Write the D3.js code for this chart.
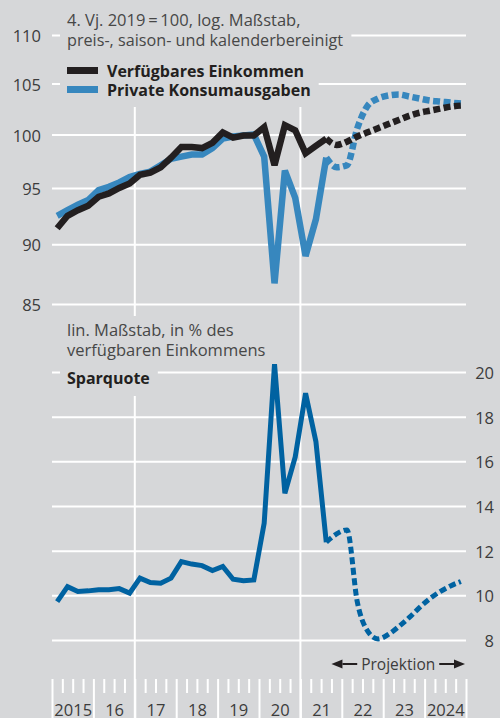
<!DOCTYPE html>
<html>
<head>
<meta charset="utf-8">
<script src="https://cdn.jsdelivr.net/npm/d3@7"></script>
<style>
  html, body { margin: 0; padding: 0; background: #d6d7d9; }
  svg { display: block; font-family: "Open Sans", "Noto Sans", sans-serif; }
</style>
</head>
<body>
<svg id="chart" width="500" height="718"></svg>
<script>
// ---------- data (quarterly, 2015Q1 .. 2024Q4) ----------
const years = ["2015", "16", "17", "18", "19", "20", "21", "22", "23", "2024"];
const firstYear = 2015;
const projectionFrom = 26; // index of the last solid quarter (2021Q3)

// Verfügbares Einkommen, 4. Vj. 2019 = 100
const einkommen = [91.4, 92.5, 93.0, 93.4, 94.2, 94.5, 95.0, 95.4, 96.2, 96.4,
  96.9, 97.8, 98.8, 98.8, 98.7, 99.2, 100.2, 99.7, 99.9, 99.9,
  100.7, 97.1, 100.9, 100.4, 98.2, 98.9, 99.6,
  99.0, 99.3, 99.8, 100.2, 100.6, 101.0, 101.4, 101.8, 102.1, 102.3, 102.5, 102.7, 102.8];

// Private Konsumausgaben, 4. Vj. 2019 = 100
const konsum = [92.5, 93.0, 93.5, 93.9, 94.8, 95.1, 95.5, 96.0, 96.3, 96.5,
  97.1, 97.7, 97.9, 98.1, 98.1, 98.7, 99.6, 99.8, 99.9, 100.0,
  97.9, 86.7, 96.6, 94.1, 89.0, 92.2, 97.8,
  96.9, 97.1, 100.6, 102.8, 103.5, 103.8, 103.9, 103.7, 103.5, 103.3, 103.2, 103.1, 103.0];

// Sparquote, in % des verfügbaren Einkommens
const sparquote = [9.72, 10.39, 10.17, 10.2, 10.25, 10.25, 10.3, 10.1, 10.77, 10.57,
  10.54, 10.77, 11.51, 11.4, 11.33, 11.11, 11.29, 10.72, 10.65, 10.69,
  13.23, 20.35, 14.57, 16.2, 19.05, 16.88, 12.38,
  12.75, 12.93, 9.7, 8.4, 8.05, 8.25, 8.6, 9.0, 9.45, 9.85, 10.17, 10.42, 10.62];

const topTicks = [85, 90, 95, 100, 105, 110];
const bottomTicks = [8, 10, 12, 14, 16, 18, 20];
const gridYears = [2017, 2021];

// ---------- layout ----------
const BG = "#d6d7d9";
const plotL = 52, plotR = 466;
const svg = d3.select("#chart");

const x = d3.scaleLinear().domain([firstYear, firstYear + years.length]).range([plotL, plotR]);
const yTop = d3.scaleLog().domain([85, 110]).range([304, 35]);
const yBot = d3.scaleLinear().domain([8, 20]).range([640, 372]);
const qx = i => x(firstYear + (i + 0.5) / 4);

// vertical grid lines
svg.append("g").selectAll("line").data(gridYears).join("line")
  .attr("x1", d => x(d)).attr("x2", d => x(d))
  .attr("y1", 107).attr("y2", 718)
  .attr("stroke", "#fff").attr("stroke-width", 2);

// left axis (top panel, log)
const axL = svg.append("g").attr("transform", `translate(${plotL},0)`)
  .call(d3.axisLeft(yTop).tickValues(topTicks).tickSize(-(plotR - plotL)).tickPadding(11).tickFormat(d3.format("d")));
axL.select(".domain").remove();
axL.selectAll(".tick line").attr("stroke", "#fff").attr("stroke-width", 2);
axL.selectAll(".tick text").attr("font-size", 16.5).attr("fill", "#3c3c3c")
  .attr("font-family", "Open Sans").attr("dy", "0.4em");

// right axis (bottom panel)
const axR = svg.append("g").attr("transform", `translate(${plotR},0)`)
  .call(d3.axisRight(yBot).tickValues(bottomTicks).tickSize(-(plotR - plotL)).tickPadding(28).tickFormat(d3.format("d")));
axR.select(".domain").remove();
axR.selectAll(".tick line").attr("stroke", "#fff").attr("stroke-width", 2);
axR.selectAll(".tick text").attr("font-size", 16.5).attr("fill", "#3c3c3c")
  .attr("font-family", "Open Sans").attr("text-anchor", "end").attr("dy", "0.4em");

// x axis: quarter ticks
const quarterTicks = d3.range(0, years.length * 4 + 1).map(q => firstYear + q / 4);
const axX = svg.append("g").attr("transform", "translate(0,679)")
  .call(d3.axisBottom(x).tickValues(quarterTicks).tickSize(14).tickFormat(""));
axX.select(".domain").remove();
axX.selectAll(".tick line").attr("stroke", "#fff").attr("stroke-width", 2)
  .attr("y2", d => (Math.abs(d - Math.round(d)) < 1e-9 ? 39 : 14));

// x axis: year labels
const axY = svg.append("g").attr("transform", "translate(0,0)")
  .call(d3.axisBottom(x).tickValues(years.map((_, i) => firstYear + i + 0.5)).tickSize(0)
    .tickFormat((d, i) => years[i]));
axY.select(".domain").remove();
axY.selectAll(".tick text").attr("y", 716).attr("dy", 0).attr("font-size", 16.5)
  .attr("fill", "#3c3c3c").attr("font-family", "Open Sans");

// ---------- text blocks with background ----------
function textLine(str, xx, yy, opts = {}) {
  return svg.append("text").attr("x", xx).attr("y", yy)
    .attr("font-size", opts.size || 16.5)
    .attr("font-weight", opts.bold ? 700 : 400)
    .attr("fill", opts.fill || "#474747")
    .text(str);
}
function bgRect(x0, y0, x1, y1) {
  return svg.append("rect").attr("x", x0).attr("y", y0)
    .attr("width", x1 - x0).attr("height", y1 - y0).attr("fill", BG);
}
// top block
const t1 = textLine("4. Vj. 2019\u2009=\u2009100, log. Maßstab,", 67, 25.5);
const t2 = textLine("preis-, saison- und kalenderbereinigt", 67, 45.5, { size: 16.2 });
const l1 = textLine("Verfügbares Einkommen", 107, 76.5, { bold: true, fill: "#231f20", size: 16 });
const l2 = textLine("Private Konsumausgaben", 107, 95.5, { bold: true, fill: "#231f20", size: 16 });
// bottom block
const s1 = textLine("lin. Maßstab, in % des", 67, 336);
const s2 = textLine("verfügbaren Einkommens", 67, 355.5);
const s3 = textLine("Sparquote", 67, 384, { bold: true, fill: "#231f20", size: 16 });

const endOf = t => { const b = t.node().getBBox(); return b.x + b.width; };
const bgs = [
  [60, 0, endOf(t1) + 8, 31],
  [60, 31, endOf(t2) + 8, 50],
  [60, 50, Math.max(endOf(l1), endOf(l2)) + 8, 107],
  [60, 316, Math.max(endOf(s1), endOf(s2)) + 8, 362],
  [60, 362, endOf(s3) + 8, 396]
];
bgs.forEach(b => bgRect(...b));
[t1, t2, l1, l2, s1, s2, s3].forEach(t => t.raise());

// legend swatches
const legendItems = [
  { color: "#231f20", y: 70.5 },
  { color: "#3787be", y: 89.5 }
];
svg.append("g").selectAll("rect").data(legendItems).join("rect")
  .attr("x", 67).attr("y", d => d.y - 3.5).attr("width", 31).attr("height", 7)
  .attr("fill", d => d.color);

// ---------- series ----------
function drawSeries(values, yScale, color, width) {
  const solid = values.slice(0, projectionFrom + 1).map((v, i) => [qx(i), yScale(v)]);
  const dotted = values.slice(projectionFrom).map((v, i) => [qx(i + projectionFrom), yScale(v)]);
  svg.append("path").attr("d", d3.line().curve(d3.curveMonotoneX)(dotted))
    .attr("fill", "none").attr("stroke", color).attr("stroke-width", width)
    .attr("stroke-dasharray", "7,3.5");
  svg.append("path").attr("d", d3.line()(solid))
    .attr("fill", "none").attr("stroke", color).attr("stroke-width", width)
    .attr("stroke-linejoin", "miter").attr("stroke-miterlimit", 3);
}
drawSeries(konsum, yTop, "#3787be", 6.5);
drawSeries(einkommen, yTop, "#231f20", 6.5);
drawSeries(sparquote, yBot, "#0062a1", 5);

// ---------- projection annotation ----------
const pA = x(2021.75), pB = x(2025) - 1;
const proj = textLine("Projektion", (pA + pB) / 2, 670, { fill: "#3c3c3c", size: 15.5 }).attr("text-anchor", "middle");
const pb = proj.node().getBBox();
const ay = 664;
const arrows = [
  { from: pb.x - 4, to: pA, dir: -1 },
  { from: pb.x + pb.width + 4, to: pB, dir: 1 }
];
arrows.forEach(a => {
  const tip = a.to, base = a.to - a.dir * 11;
  svg.append("line").attr("x1", a.from).attr("x2", base).attr("y1", ay).attr("y2", ay)
    .attr("stroke", "#231f20").attr("stroke-width", 2);
  svg.append("path").attr("d", `M${tip},${ay}L${base},${ay - 4.5}L${base},${ay + 4.5}Z`).attr("fill", "#231f20");
});
</script>
</body>
</html>
